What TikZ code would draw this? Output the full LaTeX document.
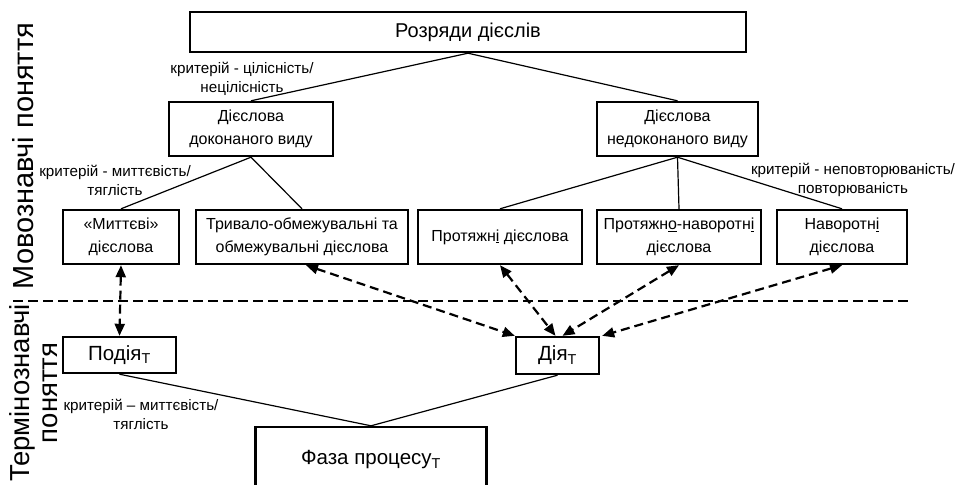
\documentclass[tikz,border=0pt]{standalone}
\usepackage{fontspec}
\setmainfont{Liberation Sans}
\usetikzlibrary{arrows.meta}
\begin{document}
\begin{tikzpicture}[x=1pt,y=-1pt]
        \tikzset{
          box/.style={draw,line width=2.4pt,inner sep=0pt,align=center,font=\fontsize{16}{23}\selectfont},
          bigbox/.style={box,font=\fontsize{20.5}{24}\selectfont},
          link/.style={line width=1.2pt},
          relation/.style={dashed,dash pattern=on 9pt off 5pt,line width=2.2pt,{Triangle[length=12pt,width=10pt]}-{Triangle[length=12pt,width=10pt]}},
          crit/.style={align=center,inner sep=0pt,font=\fontsize{15.2}{19}\selectfont},
          side/.style={rotate=90,align=center,inner sep=0pt,font=\fontsize{29}{28}\selectfont}
        }
        \useasboundingbox (0,0) rectangle (957,484);
        %SIDE TITLES
        \node[side] (lingv) at (23,156) {Мовознавчі поняття};
        \node[side,font=\fontsize{27.5}{28}\selectfont] (term) at (34,393) {Термінознавчі\\поняття};
        %TOP LEVEL
        \node[box,minimum width=556pt,minimum height=40pt,font=\fontsize{20}{24}\selectfont] (rozr) at (468,32) {Розряди дієслів};
        \node[box,minimum width=164pt,minimum height=54pt] (dok) at (251,129) {Дієслова\\доконаного виду};
        \node[box,minimum width=161pt,minimum height=54pt] (nedok) at (677.5,129) {Дієслова\\недоконаного виду};
        %THIRD LEVEL
        \node[box,minimum width=116pt,minimum height=54pt] (mytt) at (121,237) {«Миттєві»\\дієслова};
        \node[box,minimum width=212pt,minimum height=54pt] (tryv) at (302,237) {Тривало-обмежувальні та\\обмежувальні дієслова};
        \node[box,minimum width=164pt,minimum height=54pt] (prot) at (500,237) {Протяжн\underline{і} дієслова};
        \node[box,minimum width=164pt,minimum height=54pt] (protnav) at (679,237) {Протяжн\underline{о}-наворотн\underline{і}\\дієслова};
        \node[box,minimum width=130pt,minimum height=54pt] (nav) at (842,237) {Наворотн\underline{і}\\дієслова};
        %TERMS
        \node[bigbox,minimum width=113pt,minimum height=36pt] (podiya) at (119.5,355) {Подія\textsubscript{Т}};
        \node[bigbox,minimum width=83pt,minimum height=37pt] (diya) at (557.5,355.5) {Дія\textsubscript{Т}};
        \node[bigbox,minimum width=231pt,minimum height=66pt] (faza) at (371,460) {Фаза процесу\textsubscript{Т}};
        %CRITERIA
        \node[crit] (crit1) at (242,79) {критерій - цілісність/\\нецілісність};
        \node[crit] (crit2) at (115,180) {критерій - миттєвість/\\тяглість};
        \node[crit] (crit3) at (853,180) {критерій - неповторюваність/\\повторюваність};
        \node[crit] (crit4) at (141,414) {критерій – миттєвість/\\тяглість};
        %TREE
        \draw[link] (rozr.south) -- (dok.north);
        \draw[link] (rozr.south) -- (nedok.north);
        \draw[link] (dok.south) -- (mytt.north);
        \draw[link] (dok.south) -- (tryv.north);
        \draw[link] (nedok.south) -- (prot.north);
        \draw[link] (nedok.south) -- (protnav.north);
        \draw[link] (nedok.south) -- (nav.north);
        \draw[link] (podiya.south) -- (faza.north);
        \draw[link] (diya.south) -- (faza.north);
        %BORDER
        \coordinate (bleft) at (13,301);
        \coordinate (bright) at (912,301);
        \draw[dashed,dash pattern=on 10pt off 5pt,line width=2.4pt] (bleft) -- (bright);
        %RELATIONS
        \draw[relation] (mytt.south) -- (podiya.north);
        \draw[relation] ([xshift=4pt]tryv.south) -- (diya.north west);
        \draw[relation] (prot.south) -- ([xshift=-2pt]diya.north);
        \draw[relation] (protnav.south) -- ([xshift=5pt]diya.north);
        \draw[relation] (nav.south) -- ([xshift=2pt]diya.north east);
\end{tikzpicture}
\end{document}
